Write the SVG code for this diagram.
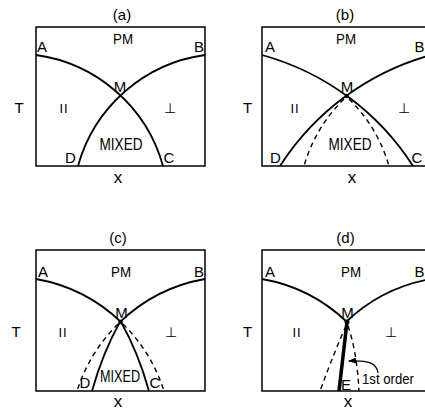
<svg xmlns="http://www.w3.org/2000/svg" width="425" height="410" viewBox="0 0 425 410">
<defs>
<style>
.box{fill:none;stroke:#000;stroke-width:1.5}
.cur{fill:none;stroke:#000;stroke-width:1.8}
.dash{fill:none;stroke:#000;stroke-width:1.4;stroke-dasharray:5 4}
.thick{fill:none;stroke:#000;stroke-width:3.5}
text{font-family:"Liberation Sans",Arial,sans-serif;font-size:15px;fill:#000;text-anchor:middle}
.par{font-size:13px;letter-spacing:1px}
.sym{font-family:"DejaVu Sans",sans-serif;font-size:14px;fill:#000}
.ax{font-size:17px}
.mix{font-size:16px}
</style>
<marker id="arr" viewBox="0 0 8 6" refX="7" refY="3" markerWidth="8" markerHeight="6" markerUnits="userSpaceOnUse" orient="auto">
<path d="M0,0 L8,3 L0,6 z" fill="#000"/>
</marker>
</defs>
<rect width="425" height="410" fill="#fff"/>

<g id="panel-a">
<rect class="box" x="36" y="27" width="169" height="139"/>
<text x="122" y="20">(a)</text>
<text x="19" y="113">T</text>
<text class="ax" x="118" y="183">x</text>
<text x="42" y="52">A</text>
<text x="199" y="52">B</text>
<text x="123" y="44" textLength="20" lengthAdjust="spacingAndGlyphs">PM</text>
<text x="120" y="92">M</text>
<text class="par" x="64" y="113">II</text>
<text class="sym" x="170" y="113">⊥</text>
<text class="mix" x="121" y="150" textLength="43" lengthAdjust="spacingAndGlyphs">MIXED</text>
<text x="70.5" y="163">D</text>
<text x="169" y="163">C</text>
</g>

<g id="panel-b">
<rect class="box" x="262" y="27" width="169" height="139"/>
<text x="345" y="20">(b)</text>
<text x="247.5" y="113">T</text>
<text class="ax" x="352" y="183">x</text>
<text x="270" y="52">A</text>
<text x="424.5" y="52" style="text-anchor:end">B</text>
<text x="346" y="44" textLength="20" lengthAdjust="spacingAndGlyphs">PM</text>
<text x="347" y="92">M</text>
<text class="par" x="295" y="113">II</text>
<text class="sym" x="404" y="113">⊥</text>
<text class="mix" x="350" y="150" textLength="43" lengthAdjust="spacingAndGlyphs">MIXED</text>
<text x="275.5" y="163">D</text>
<text x="417" y="163">C</text>
</g>

<g id="panel-c">
<rect class="box" x="36" y="250" width="169" height="141"/>
<text x="118" y="243">(c)</text>
<text x="16" y="337">T</text>
<text class="ax" x="118" y="407">x</text>
<text x="43" y="277">A</text>
<text x="199" y="277">B</text>
<text x="121" y="277" textLength="20" lengthAdjust="spacingAndGlyphs">PM</text>
<text x="121.5" y="318">M</text>
<text class="par" x="63" y="337">II</text>
<text class="sym" x="171" y="337">⊥</text>
<text class="mix" x="120" y="382" textLength="40" lengthAdjust="spacingAndGlyphs">MIXED</text>
<text x="85" y="388">D</text>
<text x="155" y="388">C</text>
</g>

<g id="panel-d">
<rect class="box" x="262" y="250" width="169" height="141"/>
<text x="345.5" y="243">(d)</text>
<text x="247.5" y="337">T</text>
<text class="ax" x="348" y="407">x</text>
<text x="270" y="277">A</text>
<text x="424.5" y="277" style="text-anchor:end">B</text>
<text x="351" y="277" textLength="20" lengthAdjust="spacingAndGlyphs">PM</text>
<text x="347.5" y="318">M</text>
<text class="par" x="297" y="337">II</text>
<text class="sym" x="391" y="337">⊥</text>
<text x="346" y="390">E</text>
<text x="362" y="384" style="text-anchor:start" textLength="52" lengthAdjust="spacingAndGlyphs">1st order</text>
</g>

<g id="connectors">
<path class="cur" d="M36,55 A153.4,153.4 0 0 1 163,166"/>
<path class="cur" transform="translate(241,0) scale(-1,1)" d="M36,55 A153.4,153.4 0 0 1 163,166"/>
<g transform="translate(226,0)">
<path class="cur" d="M36,55 A262.3,262.3 0 0 1 187,166"/>
<path class="cur" transform="translate(241,0) scale(-1,1)" d="M36,55 A262.3,262.3 0 0 1 187,166"/>
<path class="dash" d="M123,99 A153.4,153.4 0 0 1 163,166"/>
<path class="dash" transform="translate(241,0) scale(-1,1)" d="M123,99 A153.4,153.4 0 0 1 163,166"/>
<circle cx="120.8" cy="96" r="2.2" fill="#000"/>
</g>
<path class="cur" d="M36,279 A164,164 0 0 1 121,322"/>
<path class="cur" transform="translate(241,0) scale(-1,1)" d="M36,279 A164,164 0 0 1 121,322"/>
<path class="dash" d="M123,324 A164,164 0 0 1 164,391"/>
<path class="dash" transform="translate(241,0) scale(-1,1)" d="M123,324 A164,164 0 0 1 164,391"/>
<path class="cur" d="M121,322 Q138,352 149,391"/>
<path class="cur" transform="translate(241,0) scale(-1,1)" d="M121,322 Q138,352 149,391"/>
<circle cx="120.5" cy="322" r="2.2" fill="#000"/>
<path class="cur" d="M262,279 A164,164 0 0 1 347,322"/>
<path class="cur" transform="translate(693,0) scale(-1,1)" d="M262,279 A164,164 0 0 1 347,322"/>
<path class="dash" d="M346,326 Q335,350 320,391"/>
<path class="dash" d="M348,326 Q357,352 359,391"/>
<path class="thick" d="M347,322 L339,391"/>
<circle cx="347" cy="322" r="2.5" fill="#000"/>
<path class="cur" style="stroke-width:1.3" marker-end="url(#arr)" d="M378,373 C377,363 368,360 349,361"/>
</g>
</svg>
